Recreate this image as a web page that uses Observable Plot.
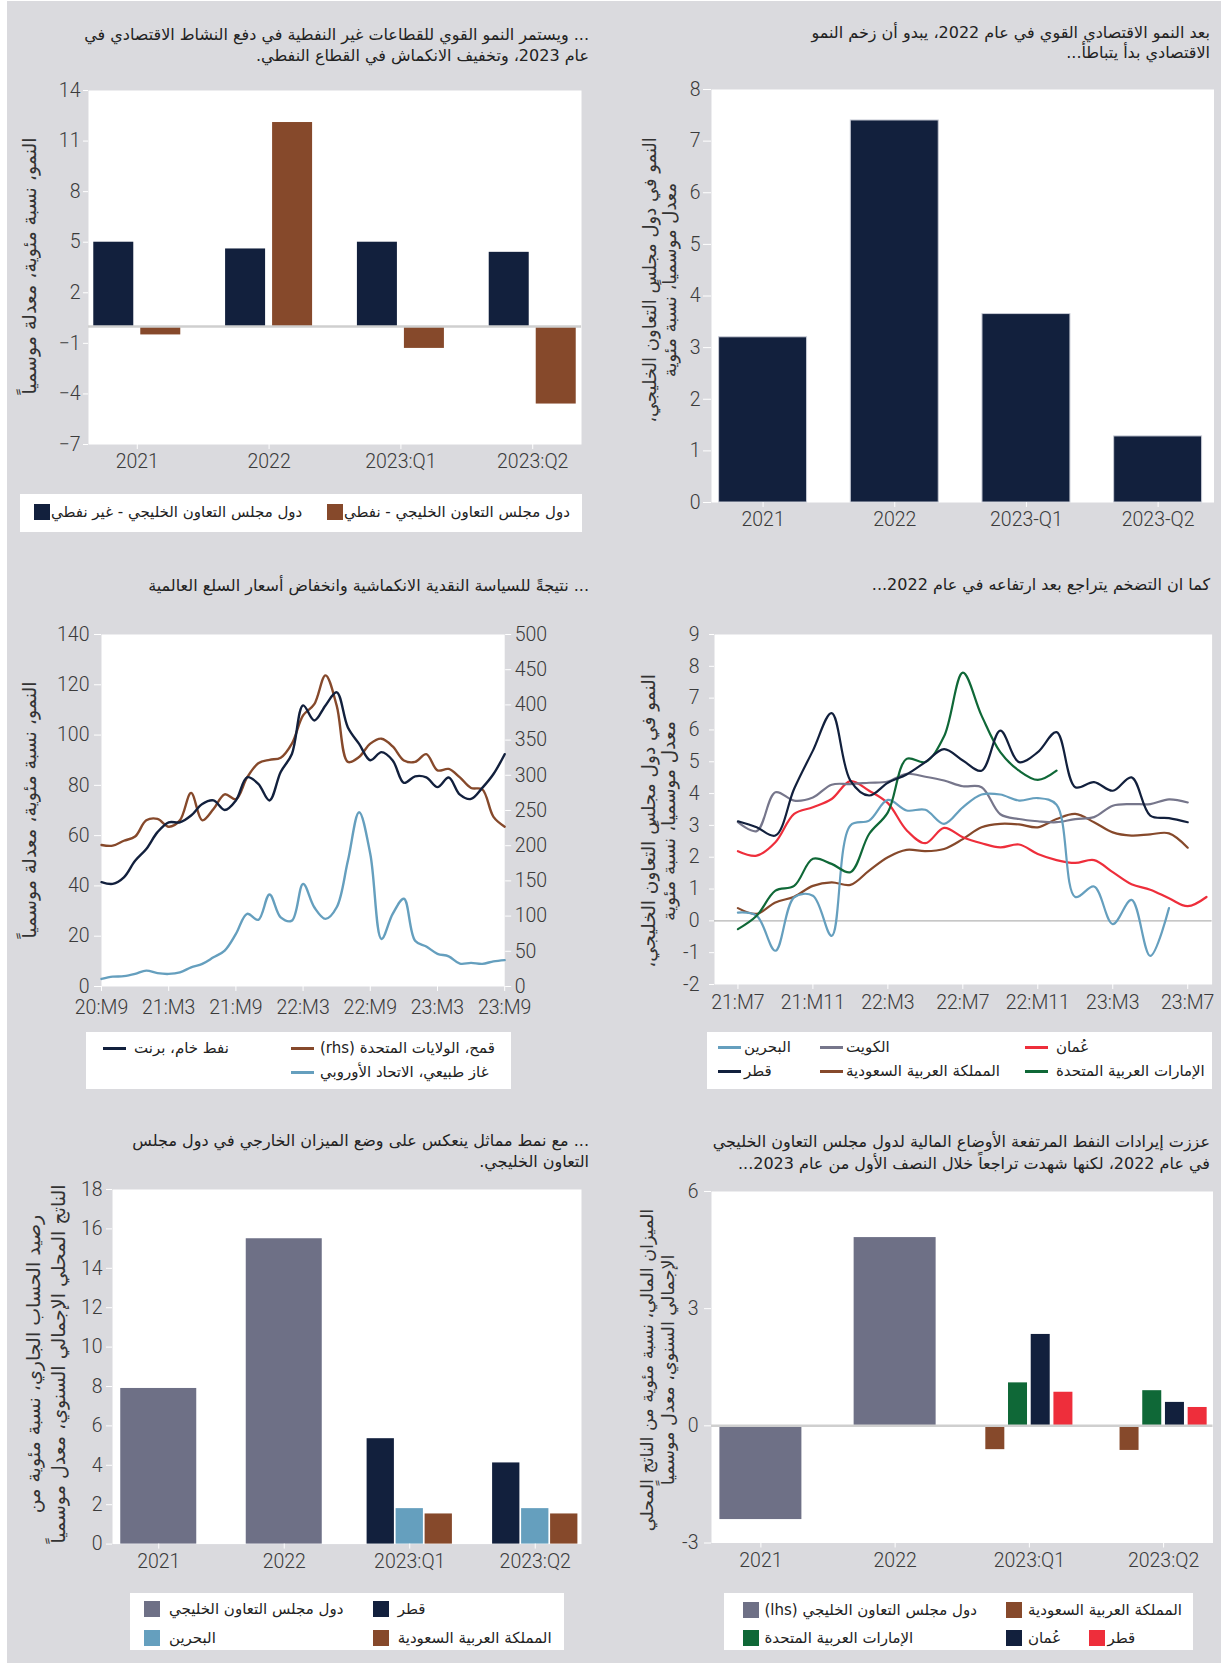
<!DOCTYPE html>
<html><head><meta charset="utf-8">
<script src="https://cdn.jsdelivr.net/npm/d3@7"></script>
<script src="https://cdn.jsdelivr.net/npm/@observablehq/plot@0.6"></script>
<style>
html,body{margin:0;padding:0;background:#fff;}
#page{position:relative;width:1221px;height:1663px;overflow:hidden;background:#fff;}
#bg{position:absolute;left:7px;top:1px;width:1214px;height:1662px;background:#dadade;}
.ar{font-family:"DejaVu Sans",sans-serif;direction:rtl;color:#222;}
.title{position:absolute;font-size:16px;line-height:21px;text-align:right;white-space:nowrap;}
.ytitle{position:absolute;font-size:16px;line-height:20px;text-align:center;white-space:nowrap;transform:translate(-50%,-50%) rotate(-90deg);color:#333;}
.legend{position:absolute;background:#fff;}
.item{position:absolute;display:flex;align-items:center;direction:ltr;transform:translateY(-50%);}
.sw{flex:none;}
.lt{font-size:15px;white-space:nowrap;}
svg{overflow:visible;}
</style></head>
<body><div id="page"><div id="bg"></div></div>
<script>
// ---------------- DATA ----------------
// Panel 1: non-oil vs oil growth
const growthCats = ["2021", "2022", "2023:Q1", "2023:Q2"];
const nonOilGrowth = [5.0, 4.6, 5.0, 4.4];
const oilGrowth = [-0.5, 12.1, -1.3, -4.6];
const growthTicks = [-7, -4, -1, 2, 5, 8, 11, 14];
const growthNames = ["دول مجلس التعاون الخليجي - غير نفطي", "دول مجلس التعاون الخليجي - نفطي"];

// Panel 2: GCC real GDP growth
const gdpCats = ["2021", "2022", "2023-Q1", "2023-Q2"];
const gdpGrowth = [3.2, 7.4, 3.65, 1.28];
const gdpTicks = [0, 1, 2, 3, 4, 5, 6, 7, 8];

// Panel 3: commodity prices, monthly 20:M9 .. 23:M9
const commodityTickLabels = ["20:M9", "21:M3", "21:M9", "22:M3", "22:M9", "23:M3", "23:M9"];
const brent = [41.5, 40.8, 43.4, 50.0, 54.7, 61.4, 65.3, 65.3, 68.0, 72.6, 74.0, 70.2, 74.0, 83.2, 80.6, 74.0, 85.3, 92.5, 111.8, 105.8, 111.8, 117.0, 103.0, 96.5, 90.0, 93.2, 89.9, 81.0, 83.6, 83.2, 79.3, 83.1, 76.3, 74.6, 79.0, 84.5, 92.4];
const wheatRhs = [201, 200, 207, 213, 236, 238, 227, 236, 275, 236, 252, 273, 266, 297, 317, 322, 325, 345, 385, 401, 442, 399, 319, 326, 345, 352, 341, 321, 319, 330, 307, 309, 297, 282, 280, 241, 227];
const euGas = [3.0, 3.9, 4.1, 5.0, 6.3, 5.3, 5.0, 5.6, 7.6, 9.0, 11.6, 14.3, 20.9, 28.9, 26.5, 36.6, 27.5, 26.2, 40.8, 31.5, 26.9, 31.5, 50.0, 69.3, 52.7, 18.9, 28.9, 34.9, 18.2, 15.9, 13.0, 12.0, 9.1, 9.4, 9.0, 10.0, 10.5];
const lhsTicks3 = [0, 20, 40, 60, 80, 100, 120, 140];
const rhsTicks3 = [0, 50, 100, 150, 200, 250, 300, 350, 400, 450, 500];
const commodityNames = ["نفط خام، برنت", "قمح، الولايات المتحدة (rhs)", "غاز طبيعي، الاتحاد الأوروبي"];

// Panel 4: inflation, monthly from 21:M7
const inflTickLabels = ["21:M7", "21:M11", "22:M3", "22:M7", "22:M11", "23:M3", "23:M7"];
const inflBahrain = [0.26, 0.16, -0.94, 0.74, 0.79, -0.47, 3.0, 3.15, 3.8, 3.47, 3.49, 3.05, 3.57, 3.97, 3.97, 3.78, 3.86, 3.65, 0.75, 1.08, -0.1, 0.66, -1.1, 0.4];
const inflKuwait = [3.1, 2.82, 4.04, 3.78, 3.88, 4.28, 4.3, 4.34, 4.38, 4.62, 4.53, 4.41, 4.23, 4.2, 3.35, 3.2, 3.13, 3.1, 3.2, 3.26, 3.62, 3.67, 3.67, 3.82, 3.72];
const inflOman = [2.19, 2.05, 2.47, 3.36, 3.57, 3.83, 4.39, 4.09, 3.7, 2.85, 2.44, 2.92, 2.63, 2.44, 2.31, 2.4, 2.1, 1.91, 1.82, 1.91, 1.53, 1.15, 0.98, 0.71, 0.46, 0.75];
const inflQatar = [3.13, 2.94, 2.68, 4.15, 5.35, 6.53, 4.41, 3.94, 4.34, 4.6, 4.99, 5.4, 5.04, 4.72, 5.98, 4.99, 5.3, 5.93, 4.2, 4.36, 4.09, 4.51, 3.31, 3.23, 3.1];
const inflSaudi = [0.4, 0.22, 0.58, 0.76, 1.1, 1.21, 1.13, 1.58, 2.0, 2.23, 2.19, 2.26, 2.57, 2.94, 3.05, 3.03, 2.94, 3.2, 3.36, 3.1, 2.78, 2.68, 2.72, 2.75, 2.3];
const inflUAE = [-0.26, 0.16, 0.95, 1.1, 1.95, 1.79, 1.53, 2.73, 3.41, 5.09, 4.99, 5.8, 7.8, 6.45, 5.3, 4.72, 4.43, 4.72];
const inflTicks = [-2, -1, 0, 1, 2, 3, 4, 5, 6, 7, 8, 9];
const inflNames = ["البحرين", "الكويت", "عُمان", "قطر", "المملكة العربية السعودية", "الإمارات العربية المتحدة"];

// Panel 5: current account
const caCats = ["2021", "2022", "2023:Q1", "2023:Q2"];
const caGCC = [7.9, 15.5, null, null];
const caQatar = [null, null, 5.35, 4.12];
const caBahrain = [null, null, 1.8, 1.8];
const caSaudi = [null, null, 1.53, 1.53];
const caTicks = [0, 2, 4, 6, 8, 10, 12, 14, 16, 18];
const caNames = ["دول مجلس التعاون الخليجي", "قطر", "البحرين", "المملكة العربية السعودية"];

// Panel 6: fiscal balance
const fisCats = ["2021", "2022", "2023:Q1", "2023:Q2"];
const fisGCC = [-2.4, 4.82, null, null];
const fisSaudi = [null, null, -0.61, -0.63];
const fisUAE = [null, null, 1.1, 0.9];
const fisOman = [null, null, 2.34, 0.6];
const fisQatar = [null, null, 0.86, 0.47];
const fisTicks = [-3, 0, 3, 6];
const fisNames = ["دول مجلس التعاون الخليجي (lhs)", "المملكة العربية السعودية", "الإمارات العربية المتحدة", "عُمان", "قطر"];

// ---------------- STYLE ----------------
const NAVY = "#12203d", BROWN = "#86492b", GRAY = "#6e7086", LBLUE = "#659fbe",
      GREEN = "#0f6837", RED = "#ee2e3b", KUWAIT = "#76768b", TXT = "#3b3b3b";
const page = document.getElementById("page");
const tickFont = "Roboto, 'Liberation Sans', Arial, sans-serif";
const svgStyle = () => ({fontFamily: tickFont, fontSize: "19.5px", fontWeight: 300, color: TXT, background: "transparent", overflow: "visible"});
const hy = d => d < 0 ? "-" + (-d) : String(d);

function dims(f, m) {
  return {width: f[2] - f[0] + m.l + m.r, height: f[3] - f[1] + m.t + m.b,
          marginLeft: m.l, marginRight: m.r, marginTop: m.t, marginBottom: m.b};
}
function mount(svg, f, m) {
  svg.style.position = "absolute";
  svg.style.left = (f[0] - m.l) + "px";
  svg.style.top = (f[1] - m.t) + "px";
  page.appendChild(svg);
}
function bandW(n, W, pi, po) { const step = W / Math.max(1, n - pi + 2 * po); return step * (1 - pi); }
function slot(bw, k, i, barW, gap) {
  const total = k * barW + (k - 1) * gap;
  const left = (bw - total) / 2 + i * (barW + gap);
  return {insetLeft: left, insetRight: bw - left - barW};
}
function rowsOf(cats, vals) { return cats.map((c, i) => ({cat: c, v: vals[i]})).filter(d => d.v != null); }
const ax = o => ({label: null, stroke: "white", fill: TXT, ...o});

function title(lines, right, top, lh) {
  const d = document.createElement("div");
  d.className = "ar title";
  d.style.right = (1221 - right) + "px";
  d.style.top = top + "px";
  d.style.lineHeight = lh + "px";
  d.innerHTML = lines.join("<br>");
  page.appendChild(d);
}
function ytitle(lines, cx, cy, fs, lh) {
  const d = document.createElement("div");
  d.className = "ar ytitle";
  d.style.left = cx + "px"; d.style.top = cy + "px";
  d.style.fontSize = fs + "px"; d.style.lineHeight = lh + "px";
  d.innerHTML = lines.join("<br>");
  page.appendChild(d);
}
function legendBox(b) {
  const d = document.createElement("div");
  d.className = "legend";
  d.style.left = b[0] + "px"; d.style.top = b[1] + "px";
  d.style.width = (b[2] - b[0]) + "px"; d.style.height = (b[3] - b[1]) + "px";
  page.appendChild(d);
}
function legendItem(x, y, color, label, kind, gap) {
  const el = document.createElement("div");
  el.className = "item";
  el.style.left = x + "px"; el.style.top = y + "px";
  const sw = document.createElement("div");
  sw.className = "sw";
  if (kind === "line") { sw.style.width = "23px"; sw.style.height = "3px"; }
  else { sw.style.width = "16px"; sw.style.height = "16px"; }
  sw.style.background = color;
  const t = document.createElement("span");
  t.className = "ar lt";
  t.style.marginLeft = gap + "px";
  t.textContent = label;
  el.append(sw, t);
  page.appendChild(el);
}

// ---------------- PANEL 1 ----------------
{
  const f = [88, 90, 581, 444], m = {l: 60, t: 12, r: 14, b: 44};
  const pi = 0.34, po = 0.04;
  const bw = bandW(growthCats.length, f[2] - f[0], pi, po);
  const svg = Plot.plot({
    ...dims(f, m), style: svgStyle(),
    x: {type: "band", domain: growthCats, paddingInner: pi, paddingOuter: po, round: false, label: null},
    y: {domain: [-7, 14], label: null},
    marks: [
      Plot.frame({fill: "white", stroke: "none"}),
      Plot.barY(rowsOf(growthCats, nonOilGrowth), {x: "cat", y: "v", fill: NAVY, ...slot(bw, 2, 0, 40, 7)}),
      Plot.barY(rowsOf(growthCats, oilGrowth), {x: "cat", y: "v", fill: BROWN, ...slot(bw, 2, 1, 40, 7)}),
      Plot.ruleY([0], {stroke: "#cfcfcf", strokeWidth: 2.5}),
      Plot.axisY(ax({ticks: growthTicks, tickSize: 5, tickPadding: 3})),
      Plot.axisX(ax({tickSize: 5, tickPadding: 5}))
    ]
  });
  mount(svg, f, m);
  title(["... ويستمر النمو القوي للقطاعات غير النفطية في دفع النشاط الاقتصادي في", "عام 2023، وتخفيف الانكماش في القطاع النفطي."], 589, 23.5, 21);
  ytitle(["النمو، نسبة مئوية، معدلة موسمياً"], 29, 266, 19, 20);
  legendBox([19.5, 494, 582, 532]);
  legendItem(34, 512, NAVY, growthNames[0], "sq", 1);
  legendItem(327, 512, BROWN, growthNames[1], "sq", 1);
}

// ---------------- PANEL 2 ----------------
{
  const f = [710.5, 89, 1213, 502], m = {l: 60, t: 12, r: 6, b: 40};
  const svg = Plot.plot({
    ...dims(f, m), style: svgStyle(),
    x: {type: "band", domain: gdpCats, paddingInner: 0.332, paddingOuter: 0.074, align: 0.39, round: false, label: null},
    y: {domain: [0, 8], label: null},
    marks: [
      Plot.frame({fill: "white", stroke: "none"}),
      Plot.barY(gdpGrowth.map((v, i) => ({cat: gdpCats[i], v})), {x: "cat", y: "v", fill: NAVY, stroke: "#c9ccd6", strokeWidth: 1}),
      Plot.axisY(ax({ticks: gdpTicks, tickSize: 8, tickPadding: 3})),
      Plot.axisX(ax({tickSize: 5, tickPadding: 5}))
    ]
  });
  mount(svg, f, m);
  title(["بعد النمو الاقتصادي القوي في عام 2022، يبدو أن زخم النمو", "الاقتصادي بدأ يتباطأ..."], 1210, 22.5, 20.5);
  ytitle(["النمو في دول مجلس التعاون الخليجي،", "معدل موسمياً، نسبة مئوية"], 658.5, 280, 18, 19.5);
}

// ---------------- PANEL 3 ----------------
{
  const f = [100.7, 634, 503.9, 986], m = {l: 70, t: 12, r: 60, b: 40};
  const k = 140 / 500;
  const svg = Plot.plot({
    ...dims(f, m), style: svgStyle(),
    x: {domain: [0, brent.length - 1], label: null},
    y: {domain: [0, 140], label: null},
    marks: [
      Plot.frame({fill: "white", stroke: "none"}),
      Plot.lineY(euGas, {stroke: LBLUE, strokeWidth: 2.4, curve: "catmull-rom"}),
      Plot.lineY(wheatRhs.map(v => v * k), {stroke: BROWN, strokeWidth: 2.4, curve: "catmull-rom"}),
      Plot.lineY(brent, {stroke: NAVY, strokeWidth: 2.4, curve: "catmull-rom"}),
      Plot.axisY(ax({ticks: lhsTicks3, tickSize: 7, tickPadding: 5})),
      Plot.axisY(ax({anchor: "right", ticks: rhsTicks3.map(v => v * k), tickFormat: v => String(Math.round(v / k)), tickSize: 6, tickPadding: 4})),
      Plot.axisX(ax({ticks: commodityTickLabels.map((_, i) => i * 6), tickFormat: v => commodityTickLabels[v / 6], tickSize: 5, tickPadding: 9}))
    ]
  });
  mount(svg, f, m);
  title(["... نتيجةً للسياسة النقدية الانكماشية وانخفاض أسعار السلع العالمية"], 589, 575, 21);
  ytitle(["النمو، نسبة مئوية، معدلة موسمياً"], 29, 810, 19, 20);
  legendBox([86, 1031.7, 511, 1089]);
  legendItem(103, 1048, NAVY, commodityNames[0], "line", 8);
  legendItem(291, 1048, BROWN, commodityNames[1], "line", 6);
  legendItem(291, 1072, LBLUE, commodityNames[2], "line", 6);
}

// ---------------- PANEL 4 ----------------
{
  const f = [714.4, 634, 1212, 984], m = {l: 60, t: 12, r: 12, b: 40};
  const svg = Plot.plot({
    ...dims(f, m), style: svgStyle(),
    x: {domain: [-1.25, 25.3], label: null},
    y: {domain: [-2, 9], label: null},
    marks: [
      Plot.frame({fill: "white", stroke: "none"}),
      Plot.ruleY([0], {stroke: "#b4b4b4", strokeWidth: 1.2}),
      Plot.lineY(inflSaudi, {stroke: BROWN, strokeWidth: 2.2, curve: "catmull-rom"}),
      Plot.lineY(inflOman, {stroke: RED, strokeWidth: 2.2, curve: "catmull-rom"}),
      Plot.lineY(inflKuwait, {stroke: KUWAIT, strokeWidth: 2.2, curve: "catmull-rom"}),
      Plot.lineY(inflBahrain, {stroke: LBLUE, strokeWidth: 2.2, curve: "catmull-rom"}),
      Plot.lineY(inflUAE, {stroke: GREEN, strokeWidth: 2.2, curve: "catmull-rom"}),
      Plot.lineY(inflQatar, {stroke: NAVY, strokeWidth: 2.2, curve: "catmull-rom"}),
      Plot.axisY(ax({ticks: inflTicks, tickFormat: hy, tickSize: 5, tickPadding: 10})),
      Plot.axisX(ax({ticks: inflTickLabels.map((_, i) => i * 4), tickFormat: v => inflTickLabels[v / 4], tickSize: 5, tickPadding: 6}))
    ]
  });
  mount(svg, f, m);
  title(["كما ان التضخم يتراجع بعد ارتفاعه في عام 2022..."], 1210, 573.5, 21);
  ytitle(["النمو في دول مجلس التعاون الخليجي،", "معدل موسمياً، نسبة مئوية"], 658, 821, 18.5, 19.5);
  legendBox([707, 1031.8, 1212, 1089.4]);
  legendItem(718, 1047, LBLUE, inflNames[0], "line", 3);
  legendItem(820, 1047, KUWAIT, inflNames[1], "line", 3);
  legendItem(1025, 1047, RED, inflNames[2], "line", 8);
  legendItem(718, 1071, NAVY, inflNames[3], "line", 3);
  legendItem(820, 1071, BROWN, inflNames[4], "line", 3);
  legendItem(1025, 1071, GREEN, inflNames[5], "line", 8);
}

// ---------------- PANEL 5 ----------------
{
  const f = [112, 1188.6, 581, 1543.2], m = {l: 60, t: 12, r: 14, b: 40};
  const pi = 0.323, po = 0.03;
  const bw = bandW(caCats.length, f[2] - f[0], pi, po);
  const svg = Plot.plot({
    ...dims(f, m), style: svgStyle(),
    x: {type: "band", domain: caCats, paddingInner: pi, paddingOuter: po, round: false, label: null},
    y: {domain: [0, 18], label: null},
    marks: [
      Plot.frame({fill: "white", stroke: "none"}),
      Plot.barY(rowsOf(caCats, caGCC), {x: "cat", y: "v", fill: GRAY, ...slot(bw, 1, 0, 76, 0)}),
      Plot.barY(rowsOf(caCats, caQatar), {x: "cat", y: "v", fill: NAVY, ...slot(bw, 3, 0, 27.3, 1.7)}),
      Plot.barY(rowsOf(caCats, caBahrain), {x: "cat", y: "v", fill: LBLUE, ...slot(bw, 3, 1, 27.3, 1.7)}),
      Plot.barY(rowsOf(caCats, caSaudi), {x: "cat", y: "v", fill: BROWN, ...slot(bw, 3, 2, 27.3, 1.7)}),
      Plot.axisY(ax({ticks: caTicks, tickSize: 6, tickPadding: 4})),
      Plot.axisX(ax({tickSize: 5, tickPadding: 5}))
    ]
  });
  mount(svg, f, m);
  title(["... مع نمط مماثل ينعكس على وضع الميزان الخارجي في دول مجلس", "التعاون الخليجي."], 589, 1131, 20.5);
  ytitle(["رصيد الحساب الجاري، نسبة مئوية من", "الناتج المحلي الإجمالي السنوي، معدل موسمياً"], 45.5, 1364, 19, 25);
  legendBox([130, 1593.4, 564, 1650.5]);
  legendItem(144, 1609, GRAY, caNames[0], "sq", 9);
  legendItem(372.7, 1609, NAVY, caNames[1], "sq", 9);
  legendItem(144, 1638, LBLUE, caNames[2], "sq", 9);
  legendItem(372.7, 1638, BROWN, caNames[3], "sq", 9);
}

// ---------------- PANEL 6 ----------------
{
  const f = [710.5, 1191, 1212, 1542.5], m = {l: 60, t: 12, r: 12, b: 40};
  const pi = 0.352, po = 0.044;
  const bw = bandW(fisCats.length, f[2] - f[0], pi, po);
  const svg = Plot.plot({
    ...dims(f, m), style: svgStyle(),
    x: {type: "band", domain: fisCats, paddingInner: pi, paddingOuter: po, round: false, label: null},
    y: {domain: [-3, 6], label: null},
    marks: [
      Plot.frame({fill: "white", stroke: "none"}),
      Plot.barY(rowsOf(fisCats, fisGCC), {x: "cat", y: "v", fill: GRAY, ...slot(bw, 1, 0, 82, 0)}),
      Plot.barY(rowsOf(fisCats, fisSaudi), {x: "cat", y: "v", fill: BROWN, ...slot(bw, 4, 0, 19, 3.7)}),
      Plot.barY(rowsOf(fisCats, fisUAE), {x: "cat", y: "v", fill: GREEN, ...slot(bw, 4, 1, 19, 3.7)}),
      Plot.barY(rowsOf(fisCats, fisOman), {x: "cat", y: "v", fill: NAVY, ...slot(bw, 4, 2, 19, 3.7)}),
      Plot.barY(rowsOf(fisCats, fisQatar), {x: "cat", y: "v", fill: RED, ...slot(bw, 4, 3, 19, 3.7)}),
      Plot.ruleY([0], {stroke: "#cfcfcf", strokeWidth: 2.5}),
      Plot.axisY(ax({ticks: fisTicks, tickFormat: hy, tickSize: 7, tickPadding: 6})),
      Plot.axisX(ax({tickSize: 5, tickPadding: 5}))
    ]
  });
  mount(svg, f, m);
  title(["عززت إيرادات النفط المرتفعة الأوضاع المالية لدول مجلس التعاون الخليجي", "في عام 2022، لكنها شهدت تراجعاً خلال النصف الأول من عام 2023..."], 1210, 1131, 21.5);
  ytitle(["الميزان المالي، نسبة مئوية من الناتج المحلي", "الإجمالي السنوي، معدل موسمياً"], 657.5, 1370, 17.5, 21);
  legendBox([724, 1593.4, 1192.6, 1650.5]);
  legendItem(742.5, 1610, GRAY, fisNames[0], "sq", 6);
  legendItem(1006, 1610, BROWN, fisNames[1], "sq", 6);
  legendItem(742.5, 1638, GREEN, fisNames[2], "sq", 6);
  legendItem(1006, 1638, NAVY, fisNames[3], "sq", 6);
  legendItem(1088.5, 1638, RED, fisNames[4], "sq", 3);
}
</script>
</body></html>
